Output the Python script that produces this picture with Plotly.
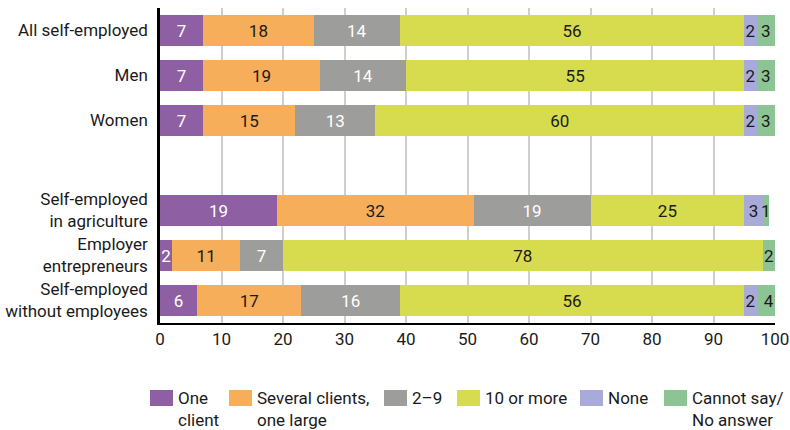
import plotly.graph_objects as go

# Groups shown top to bottom (blank row separates the two blocks)
groups_top = ["All self-employed", "Men", "Women"]
groups_bottom = ["Self-employed<br>in agriculture", "Employer<br>entrepreneurs",
                 "Self-employed<br>without employees"]
spacer = " "
categories = groups_top + [spacer] + groups_bottom

series_names = ["One<br>client", "Several clients,<br>one large", "2–9",
                "10 or more", "None", "Cannot say/<br>No answer"]

# Shares (%) per group, same order as groups_top + groups_bottom
one_client = [7, 7, 7, 19, 2, 6]
several_one_large = [18, 19, 15, 32, 11, 17]
two_to_nine = [14, 14, 13, 19, 7, 16]
ten_or_more = [56, 55, 60, 25, 78, 56]
none_ = [2, 2, 2, 3, 0, 2]
cannot_say = [3, 3, 3, 1, 2, 4]

series_values = [one_client, several_one_large, two_to_nine,
                 ten_or_more, none_, cannot_say]
colors = ["#8F5FA3", "#F7AE5A", "#9D9D9B", "#D7DB4E", "#A8ABD9", "#8DC494"]
text_colors = ["white", "#1a1a1a", "white", "#1a1a1a", "#1a1a1a", "#1a1a1a"]

x_ticks = [0, 10, 20, 30, 40, 50, 60, 70, 80, 90, 100]

FONT = "Roboto"
FS = 17
n_top = len(groups_top)

W, H = 790, 430
M_L, M_R, M_T, M_B = 160, 15, 8, 107
PW, PH = W - M_L - M_R, H - M_T - M_B


def px_to_paper_x(px):
    return (px - M_L) / PW


def px_to_paper_y(py):
    return (H - M_B - py) / PH


fig = go.Figure()
for name, vals, col, tcol in zip(series_names, series_values, colors, text_colors):
    xs = vals[:n_top] + [None] + vals[n_top:]
    txt = [("" if (v is None or v == 0) else str(v)) for v in xs]
    fig.add_trace(go.Bar(
        y=categories, x=xs, name=name, orientation="h",
        marker=dict(color=col, line=dict(width=0)),
        text=txt, textposition="inside", insidetextanchor="middle",
        textfont=dict(family=FONT, size=FS, color=tcol),
        hoverinfo="skip", showlegend=False,
    ))

# Key below the plot: colour square followed by a (possibly two-line) label
key_swatch_px = [150, 229, 384, 457, 580, 664]
swatch_w, swatch_h = 23, 16
swatch_top_px = 390
text_top_px = 387
for name, col, sx in zip(series_names, colors, key_swatch_px):
    fig.add_shape(type="rect", xref="paper", yref="paper",
                  x0=px_to_paper_x(sx), x1=px_to_paper_x(sx + swatch_w),
                  y0=px_to_paper_y(swatch_top_px + swatch_h),
                  y1=px_to_paper_y(swatch_top_px),
                  fillcolor=col, line=dict(width=0))
    fig.add_annotation(xref="paper", yref="paper",
                       x=px_to_paper_x(sx + swatch_w + 4),
                       y=px_to_paper_y(text_top_px),
                       xanchor="left", yanchor="top", align="left",
                       text=name, showarrow=False, borderpad=0,
                       font=dict(family=FONT, size=FS, color="#1a1a1a"))

fig.update_layout(
    template="none",
    barmode="stack",
    bargap=0.333,
    width=W, height=H,
    margin=dict(l=M_L, r=M_R, t=M_T, b=M_B, autoexpand=False),
    plot_bgcolor="white", paper_bgcolor="white",
    font=dict(family=FONT, size=FS, color="#1a1a1a"),
    uniformtext=dict(minsize=FS, mode="show"),
    showlegend=False,
)
fig.update_xaxes(
    automargin=False,
    range=[0, 100], tickvals=x_ticks, ticktext=[str(t) for t in x_ticks],
    showgrid=True, gridcolor="#CFCFCF", gridwidth=1.5,
    zeroline=False, showline=True, linecolor="black", linewidth=2,
    ticks="", tickfont=dict(family=FONT, size=FS, color="#1a1a1a"),
)
fig.update_yaxes(
    automargin=False,
    type="category", categoryorder="array", categoryarray=categories,
    range=[len(categories) - 0.5, -0.5],
    showgrid=False, zeroline=False, showline=True, linecolor="black",
    linewidth=2.5, ticks="", ticklabelstandoff=6,
    tickfont=dict(family=FONT, size=FS, color="#1a1a1a"),
)

fig.write_html("out.html")
